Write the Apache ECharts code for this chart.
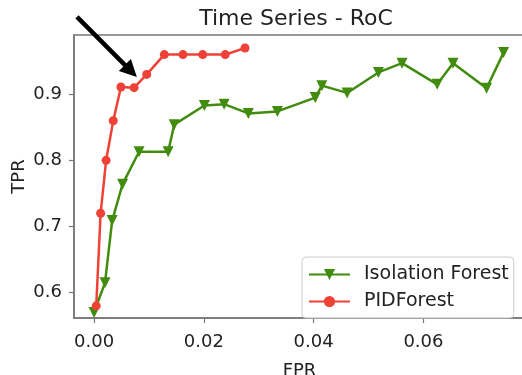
<!DOCTYPE html>
<html>
<head>
<meta charset="utf-8">
<script src="https://cdn.jsdelivr.net/npm/echarts@6/dist/echarts.min.js"></script>
<style>html,body{margin:0;padding:0;background:#fff}#c{width:522px;height:375px}</style>
</head>
<body>
<div id="c"></div>
<script>
const titleText = 'Time Series - RoC';
const xName = 'FPR';
const yName = 'TPR';
const xTicks = [0.00, 0.02, 0.04, 0.06];
const yTicks = [0.6, 0.7, 0.8, 0.9];

const ifName = 'Isolation Forest';
const ifFPR = [0.0000, 0.0020, 0.0033, 0.0052, 0.0082, 0.0135, 0.0146, 0.0201, 0.0237, 0.0281, 0.0334, 0.0403, 0.0415, 0.0461, 0.0518, 0.0561, 0.0625, 0.0654, 0.0715, 0.0746];
const ifTPR = [0.570, 0.615, 0.709, 0.764, 0.813, 0.813, 0.854, 0.883, 0.885, 0.871, 0.874, 0.895, 0.913, 0.902, 0.933, 0.947, 0.915, 0.947, 0.909, 0.963];

const pidName = 'PIDForest';
const pidFPR = [0.0004, 0.0012, 0.0022, 0.0035, 0.0049, 0.0073, 0.0096, 0.0128, 0.0162, 0.0198, 0.0239, 0.0275];
const pidTPR = [0.580, 0.720, 0.800, 0.860, 0.911, 0.910, 0.930, 0.960, 0.960, 0.960, 0.960, 0.970];

// annotation arrow (data coordinates)
const arrowTail = [-0.0031, 1.017];
const arrowTip = [0.0078, 0.926];

const FONT = 'DejaVu Sans';
const GREEN = '#418b0e';
const RED = '#ef4136';
const AX = '#777';

const chart = echarts.init(document.getElementById('c'), null, {renderer: 'canvas'});
const zip = (a, b) => a.map((v, i) => [v, b[i]]);

chart.setOption({
  animation: false,
  backgroundColor: '#fff',
  title: {
    text: titleText, left: 291, top: 3, textAlign: 'center',
    textStyle: {fontFamily: FONT, fontWeight: 'normal', fontSize: 22, color: '#222'}
  },
  grid: {left: 74, top: 35, right: -3, bottom: 57, outerBoundsMode: 'none', containLabel: false,
    show: true, borderColor: AX, borderWidth: 1.5, backgroundColor: 'transparent'},
  xAxis: {
    type: 'value', min: -0.00365, max: 0.0785,
    name: xName, nameLocation: 'middle', nameGap: 44, nameMoveOverlap: false,
    nameTextStyle: {fontFamily: FONT, fontSize: 18, color: '#222'},
    axisLine: {show: true, onZero: false, lineStyle: {color: AX, width: 1.5}},
    axisTick: {show: true, length: 5, customValues: xTicks, lineStyle: {color: AX, width: 1.2}},
    axisLabel: {customValues: xTicks, margin: 15, fontFamily: FONT, fontSize: 18, color: '#222', formatter: v => v.toFixed(2)},
    splitLine: {show: false}
  },
  yAxis: {
    type: 'value', min: 0.5616, max: 0.9896,
    name: yName, nameLocation: 'middle', nameGap: 46, nameMoveOverlap: false,
    nameTextStyle: {fontFamily: FONT, fontSize: 18, color: '#222'},
    axisLine: {show: true, onZero: false, lineStyle: {color: AX, width: 1.5}},
    axisTick: {show: true, length: 5, customValues: yTicks, lineStyle: {color: AX, width: 1.2}},
    axisLabel: {customValues: yTicks, margin: 12, fontFamily: FONT, fontSize: 18, color: '#222', formatter: v => v.toFixed(1)},
    splitLine: {show: false}
  },
  legend: {
    orient: 'vertical', left: 302, top: 257,
    padding: [8, 5, 7, 6], itemWidth: 41, itemHeight: 14, itemGap: 8,
    backgroundColor: 'rgba(255,255,255,0.8)', borderColor: '#ccc', borderWidth: 1, borderRadius: 4,
    textStyle: {fontFamily: FONT, fontSize: 19, color: '#222', padding: [0, 0, 0, 9]},
    data: [ifName, pidName]
  },
  series: [
    {
      name: ifName, type: 'line', data: zip(ifFPR, ifTPR),
      symbol: 'triangle', symbolRotate: 180, symbolSize: 11,
      lineStyle: {color: GREEN, width: 2.5}, itemStyle: {color: GREEN}
    },
    {
      name: pidName, type: 'line', data: zip(pidFPR, pidTPR),
      symbol: 'circle', symbolSize: 9,
      lineStyle: {color: RED, width: 2.5}, itemStyle: {color: RED}
    }
  ]
});

function drawArrow() {
  const t = chart.convertToPixel({gridIndex: 0}, arrowTail);
  const h = chart.convertToPixel({gridIndex: 0}, arrowTip);
  const dx = h[0] - t[0], dy = h[1] - t[1];
  const L = Math.hypot(dx, dy);
  const ux = dx / L, uy = dy / L;
  const headLen = 17, headW = 8.5;
  const bx = h[0] - ux * headLen, by = h[1] - uy * headLen;
  const px = -uy, py = ux;
  chart.setOption({
    graphic: [
      {type: 'line', shape: {x1: t[0], y1: t[1], x2: bx + ux * 2, y2: by + uy * 2}, style: {stroke: '#000', lineWidth: 4.5}, z: 100},
      {type: 'polygon', shape: {points: [[h[0], h[1]], [bx + px * headW, by + py * headW], [bx - px * headW, by - py * headW]]}, style: {fill: '#000'}, z: 100}
    ]
  });
}
drawArrow();
</script>
</body>
</html>
